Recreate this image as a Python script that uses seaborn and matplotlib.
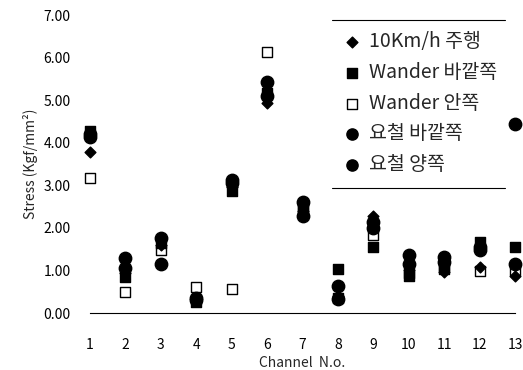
import numpy as np
import pandas as pd
import matplotlib
matplotlib.use('Agg')
import matplotlib.pyplot as plt
import seaborn as sns

# Channel numbers and stress values
channels = list(range(1, 14))
speed_10kmh = [3.78, 0.95, 1.60, 0.30, 2.95, 4.93, 2.40, 0.40, 2.28, 1.00, 0.97, 1.07, 0.87]
wander_out = [4.27, 0.85, 1.65, 0.25, 2.87, 5.17, 2.45, 1.03, 1.55, 0.86, 1.10, 1.67, 1.55]
wander_in = [3.17, 0.49, 1.48, 0.61, 0.56, 6.13, 2.45, 0.36, 1.84, 0.95, 1.03, 0.98, 1.02]
bump_out = [4.13, 1.29, 1.77, 0.35, 3.13, 5.43, 2.60, 0.64, 2.13, 1.36, 1.32, 1.55, 1.15]
bump_both = [4.20, 1.05, 1.15, 0.30, 3.05, 5.10, 2.28, 0.34, 2.00, 1.15, 1.20, 1.48, 4.44]

labels = ['10Km/h 주행', 'Wander 바깥쪽', 'Wander 안쪽', '요철 바깥쪽', '요철 양쪽']
yticks = [0, 1, 2, 3, 4, 5, 6, 7]

df = pd.DataFrame({'Channel': channels, labels[0]: speed_10kmh, labels[1]: wander_out,
                   labels[2]: wander_in, labels[3]: bump_out, labels[4]: bump_both})

sns.set_style('white')
plt.rcParams['font.family'] = ['Noto Sans CJK KR', 'DejaVu Sans']

fig = plt.figure(figsize=(5.23, 3.70), dpi=100)
ax = fig.add_axes([0.172, 0.154, 0.813, 0.805])

# marker style per series: (marker, size, facecolor, legend size)
styles = {
    labels[2]: ('s', 60, 'white', 45),
    labels[1]: ('s', 60, 'black', 55),
    labels[0]: ('D', 30, 'black', 30),
    labels[3]: ('o', 80, 'black', 65),
    labels[4]: ('o', 80, 'black', 65),
}
for name, (mk, sz, fc, ls) in styles.items():
    sns.scatterplot(x='Channel', y=name, data=df, marker=mk, s=sz, color=fc,
                    edgecolor='black', linewidth=1.0, label=name, ax=ax, clip_on=False)

ax.set_xlim(1, 13)
ax.set_ylim(0, 7)
ax.set_xticks(channels)
ax.set_yticks(yticks)
ax.set_yticklabels(['%.2f' % v for v in yticks])
ax.tick_params(axis='both', direction='in', length=4, width=0.6, colors='black', labelsize=10)
ax.tick_params(axis='y', pad=14)
ax.tick_params(axis='x', pad=18)
for s in ['top', 'right', 'left']:
    ax.spines[s].set_visible(False)
ax.spines['bottom'].set_color('black')
ax.spines['bottom'].set_linewidth(0.8)

ax.set_xlabel('Channel  N.o.', fontsize=10, labelpad=3)
ax.set_ylabel('Stress (Kgf/mm²)', fontsize=10, labelpad=4)

handles, labs = ax.get_legend_handles_labels()
order = [labs.index(l) for l in labels]
leg = ax.legend([handles[i] for i in order], [labs[i] for i in order],
                frameon=False, loc='upper left', bbox_to_anchor=(0.556, 0.998),
                fontsize=14, labelspacing=0.5, handlelength=1.0, handletextpad=0.4,
                borderpad=0.3)
for h, l in zip(leg.legend_handles, labels):
    h.set_sizes([styles[l][3]])

# top and bottom rules of the legend box
ax.plot([0.569, 0.976], [0.983, 0.983], color='black', lw=0.8, transform=ax.transAxes, clip_on=False)
ax.plot([0.569, 0.976], [0.419, 0.419], color='black', lw=0.8, transform=ax.transAxes, clip_on=False)

fig.savefig('out.png', dpi=100)
